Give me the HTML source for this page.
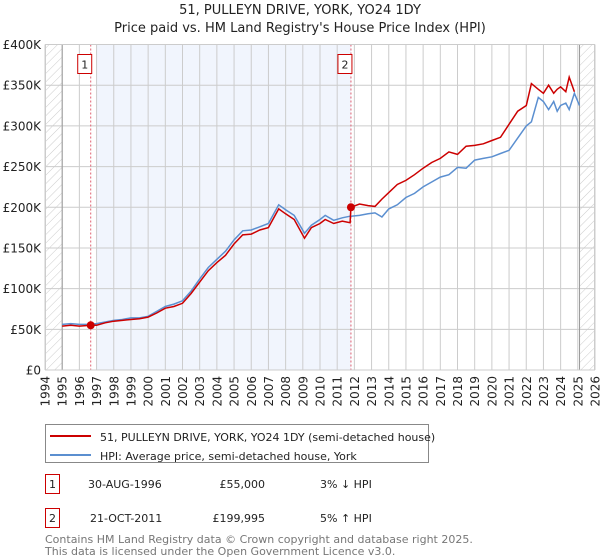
<!DOCTYPE html>
<html><head><meta charset="utf-8">
<style>
body{margin:0;background:#fff;font-family:"DejaVu Sans","Liberation Sans",sans-serif;}
svg{display:block}
</style></head>
<body>
<svg id="chart" width="600" height="560" xmlns="http://www.w3.org/2000/svg" font-family="DejaVu Sans, Liberation Sans, sans-serif">
<defs>
<pattern id="hatch" width="6" height="6" patternUnits="userSpaceOnUse" patternTransform="rotate(45)">
<line x1="0" y1="0" x2="0" y2="6" stroke="#ccc" stroke-width="1"/>
</pattern>
</defs>
<text x="300" y="14" text-anchor="middle" font-size="13" fill="#222">51, PULLEYN DRIVE, YORK, YO24 1DY</text>
<text x="300" y="32" text-anchor="middle" font-size="13" fill="#222">Price paid vs. HM Land Registry's House Price Index (HPI)</text>
<g id="plot"></g>
<g>
<rect x="45.5" y="424.5" width="383" height="38" fill="#fff" stroke="#888"/>
<line x1="50" y1="436" x2="91" y2="436" stroke="#cc0000" stroke-width="2"/>
<text x="100" y="441" font-size="11" fill="#222">51, PULLEYN DRIVE, YORK, YO24 1DY (semi-detached house)</text>
<line x1="50" y1="455" x2="91" y2="455" stroke="#5b8fd0" stroke-width="2"/>
<text x="100" y="460" font-size="11" fill="#222">HPI: Average price, semi-detached house, York</text>
</g>
<g font-size="11" fill="#222">
<rect x="45.5" y="474.5" width="14" height="19" fill="#fff" stroke="#cc0000"/>
<text x="52.5" y="488" text-anchor="middle">1</text>
<text x="88" y="488">30-AUG-1996</text>
<text x="265" y="488" text-anchor="end">£55,000</text>
<text x="320" y="488">3% ↓ HPI</text>
<rect x="45.5" y="508.5" width="14" height="19" fill="#fff" stroke="#cc0000"/>
<text x="52.5" y="522" text-anchor="middle">2</text>
<text x="90" y="522">21-OCT-2011</text>
<text x="265" y="522" text-anchor="end">£199,995</text>
<text x="320" y="522">5% ↑ HPI</text>
</g>
<text x="45" y="543" font-size="11" fill="#777">Contains HM Land Registry data © Crown copyright and database right 2025.</text>
<text x="45" y="555" font-size="11" fill="#777">This data is licensed under the Open Government Licence v3.0.</text>
</svg>
<script>
const years=[1995,1995.5,1996,1996.66,1997,1997.5,1998,1998.5,1999,1999.5,2000,2000.5,2001,2001.5,2002,2002.5,2003,2003.5,2004,2004.5,2005,2005.5,2006,2006.5,2007,2007.6,2008,2008.5,2009.1,2009.5,2010,2010.3,2010.8,2011.3,2011.75,2011.8,2012.3,2012.8,2013.2,2013.6,2014,2014.5,2015,2015.5,2016,2016.5,2017,2017.5,2018,2018.5,2019,2019.5,2020,2020.5,2021,2021.5,2022,2022.3,2022.7,2023,2023.3,2023.6,2023.8,2024,2024.3,2024.5,2024.8,2025.1];
const hpiValues=[56,57,56,56,57,59,61,62,64,64,66,72,78,81,85,97,112,126,136,146,160,171,172,176,180,203,197,190,168,178,185,190,184,187,189,189,190,192,193,188,198,203,212,217,225,231,237,240,249,248,258,260,262,266,270,285,300,305,335,330,320,330,318,325,328,320,340,325];
const priceValues=[54,55,54,55,55,58,60,61,62,63,65,70,76,78,82,94,108,122,132,141,155,166,167,172,175,198,192,185,162,175,180,185,180,183,181,200,204,202,201,210,218,228,233,240,248,255,260,268,265,275,276,278,282,286,302,318,325,352,345,340,350,340,345,348,342,360,342];
const yTicks=[0,50,100,150,200,250,300,350,400];
const yTickLabels=["£0","£50K","£100K","£150K","£200K","£250K","£300K","£350K","£400K"];
const xTicks=[1994,1995,1996,1997,1998,1999,2000,2001,2002,2003,2004,2005,2006,2007,2008,2009,2010,2011,2012,2013,2014,2015,2016,2017,2018,2019,2020,2021,2022,2023,2024,2025,2026];
const sales=[{n:"1",year:1996.66,value:55},{n:"2",year:2011.8,value:199.995}];

const L=45,R=595,T=44.5,B=370;
const x=v=>L+(v-1994)/(2026-1994)*(R-L);
const y=v=>B-v/400*(B-T);
const NS="http://www.w3.org/2000/svg";
const g=document.getElementById('plot');
function mk(tag,attrs,parent){const e=document.createElementNS(NS,tag);for(const k in attrs)e.setAttribute(k,attrs[k]);(parent||g).appendChild(e);return e;}

let e;
e=mk('rect',{x:L,y:T,width:R-L,height:B-T,fill:'#fff'});


e=mk('rect',{x:x(1997),y:T,width:x(sales[1].year)-x(1997),height:B-T,fill:'#f1f5fd'});


e=mk('rect',{x:L,y:T,width:x(1995)-L,height:B-T,fill:'url(#hatch)'});


e=mk('rect',{x:x(2025.1),y:T,width:R-x(2025.1),height:B-T,fill:'url(#hatch)'});



xTicks.forEach(t=>{
  e=mk('line',{x1:x(t),x2:x(t),y1:T,y2:B,stroke:'#ccc','stroke-width':1});
  
  
  e=mk('text',{x:0,y:0,transform:`translate(${x(t)+4.5},${B+6}) rotate(-90)`,'text-anchor':'end','font-size':12,fill:'#222'});
  e.textContent=t;
  
  
});
yTicks.forEach((t,i)=>{
  e=mk('line',{x1:L,x2:R,y1:y(t),y2:y(t),stroke:'#ccc','stroke-width':1});
  
  
  e=mk('text',{x:L-4,y:y(t)+4.5,'text-anchor':'end','font-size':12,fill:'#222'});
  e.textContent=yTickLabels[i];
  
  
});
e=mk('line',{x1:x(1995),x2:x(1995),y1:T,y2:B,stroke:'#999','stroke-width':1});


e=mk('line',{x1:x(2025.1),x2:x(2025.1),y1:T,y2:B,stroke:'#999','stroke-width':1});



sales.forEach(s=>{
  e=mk('line',{x1:x(s.year),x2:x(s.year),y1:T,y2:B,stroke:'#e06070','stroke-width':1,'stroke-dasharray':'2,2'});
  
  
  e=mk('rect',{x:x(s.year)-13,y:T+10,width:14,height:19,fill:'#fff',stroke:'#cc0000'});
  
  
  e=mk('text',{x:x(s.year)-6,y:T+24,'text-anchor':'middle','font-size':11,fill:'#222'});
  e.textContent=s.n;
  
  
});

function path(vals){return vals.map((v,i)=>(i?'L':'M')+x(years[i]).toFixed(1)+','+y(v).toFixed(1)).join('');}
e=mk('path',{d:path(hpiValues),fill:'none',stroke:'#5b8fd0','stroke-width':1.5});


e=mk('path',{d:path(priceValues),fill:'none',stroke:'#cc0000','stroke-width':1.5});


sales.forEach(s=>{
  e=mk('circle',{cx:x(s.year),cy:y(s.value),r:4,fill:'#cc0000'});
  
  
});
e=mk('rect',{x:L+.5,y:T,width:R-L-1,height:B-T,fill:'none',stroke:'#ccc'});


</script>
</body></html>
